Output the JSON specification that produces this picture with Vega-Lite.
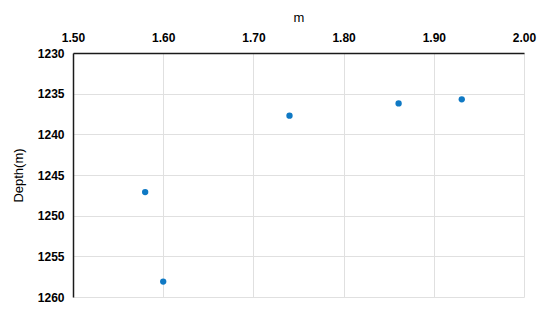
{
  "$schema": "https://vega.github.io/schema/vega-lite/v6.json",
  "autosize": "none",
  "width": 451,
  "height": 244,
  "padding": {"left": 73, "top": 53, "right": 26, "bottom": 21},
  "background": "white",
  "config": {"view": {"stroke": null}, "font": "Liberation Sans"},
  "data": {"values": [
    {"m": 1.580, "depth": 1247.1},
    {"m": 1.600, "depth": 1258.1},
    {"m": 1.740, "depth": 1237.7},
    {"m": 1.861, "depth": 1236.2},
    {"m": 1.931, "depth": 1235.7}
  ]},
  "mark": {"type": "circle", "size": 40, "color": "#0f79c4", "opacity": 1},
  "encoding": {
    "x": {"field": "m", "type": "quantitative", "title": "m",
      "scale": {"domain": [1.5, 2.0], "nice": false, "zero": false},
      "axis": {"orient": "top", "values": [1.5, 1.6, 1.7, 1.8, 1.9, 2.0], "format": ".2f",
        "domainColor": "#1a1a1a", "domainWidth": 1.5, "ticks": false, "labelPadding": 9,
        "labelFont": "Liberation Sans", "labelFontSize": 12, "labelFontWeight": "bold", "labelColor": "#000",
        "labelFlush": false,
        "gridColor": "#e0e0e0", "gridWidth": 1,
        "titleFont": "Liberation Sans", "titleFontSize": 13, "titleFontWeight": "normal", "titleColor": "#000", "titlePadding": 7}},
    "y": {"field": "depth", "type": "quantitative", "title": "Depth(m)",
      "scale": {"domain": [1230, 1260], "reverse": true, "nice": false, "zero": false},
      "axis": {"values": [1230, 1235, 1240, 1245, 1250, 1255, 1260], "format": "d",
        "domainColor": "#1a1a1a", "domainWidth": 1.5, "ticks": false, "labelPadding": 9,
        "labelFont": "Liberation Sans", "labelFontSize": 12, "labelFontWeight": "bold", "labelColor": "#000",
        "labelFlush": false,
        "gridColor": "#e0e0e0", "gridWidth": 1,
        "titleFont": "Liberation Sans", "titleFontSize": 13, "titleFontWeight": "normal", "titleColor": "#000", "titlePadding": 12}}
  }
}
